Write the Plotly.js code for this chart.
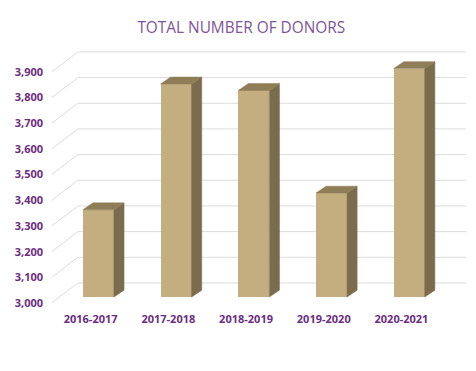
<!DOCTYPE html>
<html>
<head>
<meta charset="utf-8">
<script src="https://cdn.plot.ly/plotly-3.0.1.min.js"></script>
<style>html,body{margin:0;padding:0;background:#fff;}#chart{width:476px;height:371px;}</style>
</head>
<body>
<div id="chart"></div>
<script>
// ---- data ----
const categories = ['2016-2017', '2017-2018', '2018-2019', '2019-2020', '2020-2021'];
const donors = [3340, 3830, 3805, 3405, 3890];
const yTickVals = [3000, 3100, 3200, 3300, 3400, 3500, 3600, 3700, 3800, 3900];
const yTickText = ['3,000', '3,100', '3,200', '3,300', '3,400', '3,500', '3,600', '3,700', '3,800', '3,900'];

// ---- 3D projection styling (in axis units) ----
const BASE = 3000;
const barW = 0.4;
const barDX = 0.1, barDY = 23;      // bar front face offset from front plane
const depDX = 0.13, depDY = 27;     // bar depth
const wallDX = 0.335, wallDY = 78;  // back wall offset
const floorL = -0.5, floorR = 4.5;

const cFront = '#c4ae7f', cTop = '#8f7d58', cSide = '#7b6c4d';
const idx = categories.map((c, i) => i);

// back-wall gridlines as shapes below traces
const shapes = yTickVals.map(t => ({
  type: 'path', xref: 'x', yref: 'y', layer: 'below',
  path: `M${floorL},${t} L${floorL + wallDX},${t + wallDY} L${floorR + wallDX},${t + wallDY}`,
  line: {color: '#dcdcdc', width: 1}
}));

const traces = [];
traces.push({
  type: 'bar', x: idx.map(i => i + barDX), y: donors.map(v => v - BASE),
  base: BASE + barDY, width: barW,
  marker: {color: cFront, line: {width: 0}},
  hoverinfo: 'skip', showlegend: false
});
donors.forEach((v, i) => {
  const xl = i + barDX - barW / 2, xr = i + barDX + barW / 2;
  const yb = BASE + barDY, yt = v + barDY;
  // side face
  traces.push({
    type: 'scatter', mode: 'lines', fill: 'toself', fillcolor: cSide,
    x: [xr, xr + depDX, xr + depDX, xr, xr],
    y: [yb, yb + depDY, yt + depDY, yt, yb],
    line: {width: 0.5, color: cSide}, hoverinfo: 'skip', showlegend: false
  });
  // top face
  traces.push({
    type: 'scatter', mode: 'lines', fill: 'toself', fillcolor: cTop,
    x: [xl, xl + depDX, xr + depDX, xr, xl],
    y: [yt, yt + depDY, yt + depDY, yt, yt],
    line: {width: 0.5, color: cTop}, hoverinfo: 'skip', showlegend: false
  });
});

const layout = {
  width: 476, height: 371,
  margin: {l: 44, r: 4, t: 46, b: 63},
  paper_bgcolor: '#fff', plot_bgcolor: '#fff',
  title: {
    text: 'TOTAL NUMBER OF DONORS',
    x: 0.507, xref: 'container', xanchor: 'center',
    y: 0.925, yref: 'container', yanchor: 'middle',
    font: {family: 'Open Sans, sans-serif', size: 15.4, color: '#80559a'}
  },
  xaxis: {
    range: [-0.6, 4.908], tickvals: idx, ticktext: categories,
    showgrid: false, zeroline: false, showline: false, ticks: '',
    ticklabelstandoff: 3,
    tickfont: {family: 'Open Sans, sans-serif', size: 11, color: '#6b2d82', weight: 'bold'}
  },
  yaxis: {
    range: [2980.5, 4001], tickvals: yTickVals, ticktext: yTickText,
    showgrid: false, zeroline: false, showline: false, ticks: '',
    tickfont: {family: 'Open Sans, sans-serif', size: 11, color: '#6b2d82', weight: 'bold'}
  },
  shapes: shapes,
  bargap: 0, showlegend: false
};

Plotly.newPlot('chart', traces, layout, {staticPlot: true, displayModeBar: false});
</script>
</body>
</html>
